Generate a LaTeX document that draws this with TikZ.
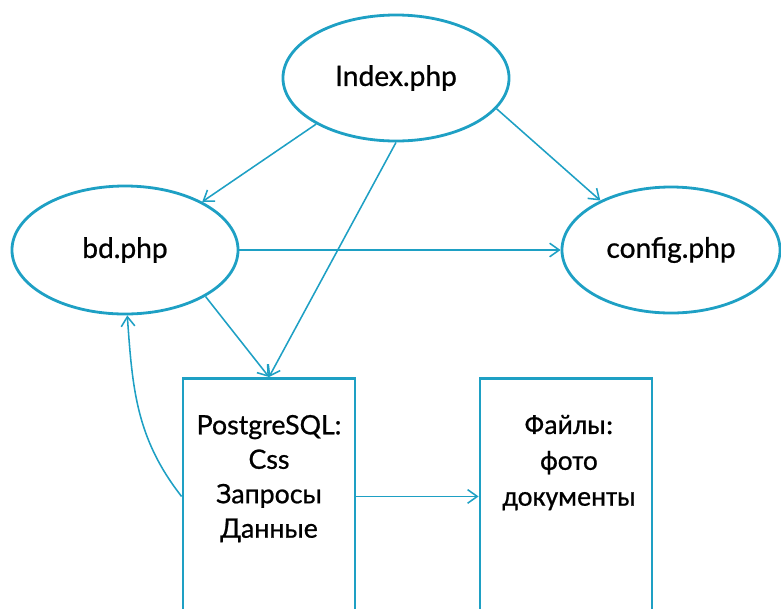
\documentclass[tikz,border=0pt]{standalone}
\usepackage{fontspec}
\setmainfont{Lato}[FakeBold=0.8]
\newfontfamily\filesfont{Carlito}[FakeBold=0.6]
\usetikzlibrary{shapes.geometric, arrows.meta}
\definecolor{linkblue}{RGB}{30,160,196}
\tikzset{
  phpfile/.style={draw=linkblue, line width=2pt, ellipse, font=\fontsize{20}{24}\selectfont},
  storebox/.style={draw=linkblue, line width=2pt, rectangle, minimum width=4.3cm, minimum height=5.9cm, anchor=north},
  storetext/.style={align=center, anchor=north, font=\fontsize{19}{24.5}\selectfont},
  link/.style={draw=linkblue, line width=1.1pt, -{Straight Barb[length=2.4mm,width=3.4mm]}}
}

\begin{document}
\begin{tikzpicture}[x=0.025cm, y=-0.025cm]
            \useasboundingbox (0,0) rectangle (781,608);

            % php files
            \node[phpfile, minimum width=5.65cm, minimum height=3.15cm] (index) at (396,78) {Index.php};
            \node[phpfile, minimum width=5.65cm, minimum height=3.2cm] (bd) at (125,250) {bd.php};
            \node[phpfile, minimum width=5.45cm, minimum height=3.15cm] (config) at (671,250) {config.php};

            % storage boxes
            \node[storebox] (dbbox) at (269,377) {};
            \node[storetext] (dbtext) at (269,410) {PostgreSQL:\\Css\\Запросы\\Данные};
            \node[storebox] (filesbox) at (566,377) {};
            \node[storetext, font=\filesfont\fontsize{20}{25.5}\selectfont] (filestext) at (569,410) {Файлы:\\фото\\документы};

            % links
            \draw[link] (index.210) -- (bd.32);
            \draw[link] (index.270) -- (dbbox.north);
            \draw[link] (index.-17) -- (config.145);
            \draw[link] (bd.east) -- (config.west);
            \draw[link] (bd.-30) -- (dbbox.north);
            \draw[link] (dbbox.west) to[out=128, in=-86] (bd.272);
            \draw[link] (dbbox.east) -- (filesbox.west);
        \end{tikzpicture}
\end{document}
